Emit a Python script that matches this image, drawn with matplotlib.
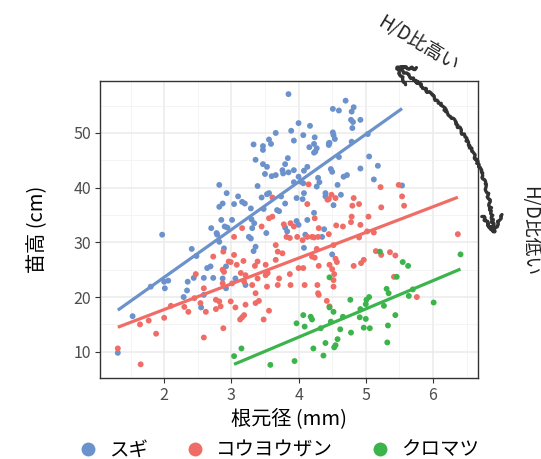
import numpy as np
import matplotlib
matplotlib.use("Agg")
import matplotlib.pyplot as plt
from matplotlib.patches import FancyArrowPatch
from matplotlib.lines import Line2D

plt.rcParams['font.family'] = ['Noto Sans CJK JP', 'DejaVu Sans']

species = ["スギ", "コウヨウザン", "クロマツ"]
colors = ["#6C92CC", "#EF6D66", "#3BB44B"]

sugi_x = [3.85, 4.00, 3.89, 4.17, 3.66, 4.07, 4.24, 3.56, 3.59, 3.33, 3.47, 3.47, 3.93, 4.23, 4.16, 4.27,
          4.23, 4.45, 3.84, 3.36, 3.47, 3.53, 3.80, 4.13, 4.08, 3.50, 3.60, 3.66, 3.77, 3.85, 3.93, 4.00,
          4.29, 2.82, 3.39, 3.93, 4.03, 4.27, 2.93, 3.56, 4.08, 4.40, 4.51, 4.60, 4.70, 4.82, 4.79, 4.78,
          4.81, 4.92, 4.80, 4.51, 4.52, 4.54, 4.79, 4.46, 4.45, 5.03, 4.25, 4.60, 5.05, 3.76, 4.48, 4.50,
          4.67, 4.72, 4.92, 5.18, 4.31, 5.12, 4.58, 5.54, 4.40, 4.63, 4.52, 3.97, 4.23, 4.13, 3.74, 2.87,
          2.82, 3.04, 3.16, 3.20, 3.29, 3.45, 3.53, 3.71, 4.06, 2.85, 3.01, 3.30, 3.34, 3.31, 3.26, 3.29,
          2.94, 2.70, 2.78, 3.80, 3.83, 3.97, 4.10, 3.52, 2.89, 3.36, 3.33, 4.08, 2.41, 2.69, 2.64, 2.92,
          2.59, 2.44, 2.73, 2.87, 2.92, 3.06, 3.21, 2.59, 2.55, 2.90, 1.97, 2.79, 2.82, 2.48, 1.31, 1.53,
          1.80, 2.00, 2.01, 2.06, 2.35, 2.34, 2.29, 3.10, 3.48, 3.68, 4.38, 4.35, 4.50, 3.80, 4.00, 4.07]
sugi_y = [57.1, 51.8, 50.4, 51.3, 50.0, 49.6, 49.2, 48.8, 48.0, 47.9, 47.6, 46.9, 48.6, 48.0, 47.4, 47.2,
          46.4, 48.1, 45.4, 45.1, 44.3, 43.8, 44.3, 43.8, 43.1, 42.5, 42.1, 42.3, 42.6, 42.8, 43.2, 42.0,
          41.8, 40.5, 40.3, 41.0, 41.1, 40.2, 39.0, 39.0, 39.0, 39.0, 54.4, 54.1, 55.9, 54.7, 53.9, 52.4,
          52.0, 52.4, 50.9, 50.1, 49.6, 48.9, 48.4, 48.2, 47.8, 49.8, 46.6, 45.6, 45.7, 43.2, 43.4, 42.9,
          42.0, 42.3, 43.5, 44.0, 41.0, 41.5, 40.5, 40.4, 38.4, 38.7, 36.8, 38.1, 35.4, 34.1, 38.4, 37.1,
          36.5, 37.0, 37.4, 37.1, 36.2, 38.2, 38.8, 35.7, 37.9, 34.1, 34.1, 34.2, 33.5, 32.6, 31.0, 30.7,
          32.7, 32.6, 31.7, 32.7, 32.0, 33.9, 31.4, 31.7, 28.9, 29.2, 28.4, 29.0, 28.8, 25.6, 25.3, 25.6,
          23.5, 23.5, 23.5, 23.4, 21.6, 23.4, 22.2, 20.4, 18.1, 32.9, 31.4, 31.4, 30.1, 27.5, 9.8, 16.5,
          21.9, 22.8, 21.6, 23.0, 22.8, 21.2, 20.0, 38.4, 36.1, 35.9, 32.4, 31.0, 27.8, 37.1, 33.2, 40.8]

kouyou_x = [5.49, 5.54, 5.57, 5.22, 5.23, 4.82, 4.90, 4.80, 4.55, 4.45, 4.49, 4.13, 4.79, 5.04, 4.78, 4.92,
            4.56, 4.66, 4.30, 4.24, 3.78, 3.88, 4.15, 4.43, 4.45, 4.23, 5.12, 4.90, 5.02, 4.52, 4.27, 4.20,
            4.24, 4.55, 4.57, 4.30, 4.46, 4.50, 4.82, 4.97, 4.93, 5.15, 5.23, 5.36, 5.44, 5.42, 4.53, 4.52,
            4.29, 6.37, 5.76, 4.42, 4.30, 4.46, 4.52, 4.09, 3.88, 4.00, 4.07, 3.76, 3.61, 3.56, 3.61, 3.16,
            3.45, 3.04, 3.82, 3.87, 3.98, 4.13, 4.20, 4.29, 3.66, 2.88, 3.39, 3.69, 3.66, 2.73, 3.04, 3.18,
            2.99, 3.08, 3.35, 3.54, 3.14, 3.21, 3.51, 3.71, 3.87, 2.47, 2.87, 3.19, 3.31, 3.53, 2.45, 2.59,
            3.39, 3.69, 3.36, 3.41, 3.36, 3.21, 2.99, 2.82, 2.77, 2.84, 2.77, 2.62, 2.54, 3.06, 3.19, 3.16,
            3.13, 3.56, 3.48, 2.88, 2.59, 2.96, 2.87, 1.31, 1.64, 1.65, 1.77, 1.88, 2.00, 2.10, 2.30, 2.36,
            4.28, 3.93, 4.06, 3.51, 3.01, 2.89]
kouyou_y = [40.5, 38.4, 36.7, 40.1, 36.4, 38.1, 37.0, 36.7, 38.1, 37.9, 38.7, 37.0, 34.7, 34.7, 33.7, 33.2,
            33.1, 32.9, 32.6, 34.4, 33.3, 33.5, 40.6, 37.8, 31.5, 30.9, 31.8, 30.9, 32.0, 29.5, 28.8, 27.4,
            27.2, 27.0, 26.4, 25.7, 25.9, 25.1, 25.7, 26.8, 26.2, 28.4, 27.7, 28.2, 27.6, 23.7, 24.2, 21.9,
            20.7, 31.5, 20.0, 19.3, 20.4, 18.3, 23.1, 22.2, 22.2, 25.3, 25.3, 28.0, 38.2, 34.4, 34.7, 32.6,
            32.9, 31.0, 31.0, 30.8, 31.0, 31.0, 31.0, 31.0, 29.5, 28.3, 26.5, 28.3, 26.8, 27.4, 27.7, 26.6,
            26.4, 25.9, 25.7, 24.4, 24.4, 24.0, 24.0, 23.4, 24.2, 24.2, 22.5, 22.8, 22.2, 21.9, 19.8, 21.6,
            23.4, 22.2, 20.7, 19.3, 18.9, 18.6, 19.2, 19.2, 19.5, 18.3, 17.8, 17.3, 18.9, 18.1, 16.7, 16.3,
            15.9, 17.5, 15.9, 14.3, 12.6, 26.5, 25.0, 10.6, 15.0, 7.7, 15.7, 13.3, 16.2, 18.4, 18.2, 17.3,
            22.2, 32.9, 30.4, 25.9, 22.5, 24.6]

kuromatsu_x = [6.41, 5.21, 5.55, 5.63, 5.46, 4.46, 5.31, 6.01, 5.70, 5.64, 5.34, 5.27, 5.44, 5.33, 5.32, 5.05,
               5.01, 5.00, 4.92, 4.91, 5.00, 4.97, 5.06, 4.77, 4.66, 4.62, 4.78, 4.58, 4.55, 4.53, 4.40, 4.37,
               4.22, 4.48, 4.52, 4.46, 4.33, 4.20, 4.18, 4.07, 4.09, 3.97, 3.94, 3.15, 3.04, 3.58]
kuromatsu_y = [27.8, 28.3, 26.4, 25.7, 23.7, 23.6, 21.5, 19.0, 21.4, 20.2, 20.7, 18.4, 16.7, 14.8, 11.7, 20.0,
               19.5, 18.7, 17.8, 16.3, 16.0, 14.4, 14.3, 19.5, 16.4, 14.1, 13.5, 12.3, 11.2, 10.8, 11.6, 9.3,
               10.6, 15.5, 17.3, 18.1, 14.3, 15.9, 16.4, 16.7, 14.6, 15.2, 8.3, 10.6, 9.2, 7.6]

xs = [sugi_x, kouyou_x, kuromatsu_x]
ys = [sugi_y, kouyou_y, kuromatsu_y]

x_ticks = [2, 3, 4, 5, 6]
y_ticks = [10, 20, 30, 40, 50]

fig = plt.figure(figsize=(5.41, 4.59), dpi=100)
ax = fig.add_axes([100/541, 1-378/459, 378/541, 297/459])
ax.set_facecolor("white")

# grid
for v in x_ticks:
    ax.axvline(v, color="#EBEBEB", lw=1.1, zorder=0)
for v in [1.5, 2.5, 3.5, 4.5, 5.5, 6.5]:
    ax.axvline(v, color="#F2F2F2", lw=0.6, zorder=0)
for v in y_ticks:
    ax.axhline(v, color="#EBEBEB", lw=1.1, zorder=0)
for v in [15, 25, 35, 45, 55]:
    ax.axhline(v, color="#F2F2F2", lw=0.6, zorder=0)

for x, y, c in zip(xs, ys, colors):
    x = np.array(x); y = np.array(y)
    ax.scatter(x, y, s=18, color=c, edgecolors="none", zorder=3)
for x, y, c in zip(xs, ys, colors):
    x = np.array(x); y = np.array(y)
    k, b = np.polyfit(x, y, 1)
    xx = np.array([x.min(), x.max()])
    ax.plot(xx, k*xx + b, color=c, lw=2.3, zorder=4, solid_capstyle="butt")

ax.set_xlim(1.045, 6.67)
ax.set_ylim(5.2, 59.5)
ax.set_xticks(x_ticks)
ax.set_yticks(y_ticks)
ax.tick_params(length=3.5, width=0.8, color="#333333", labelcolor="#4D4D4D", labelsize=11.5, pad=3)
for s in ax.spines.values():
    s.set_color("#333333")
    s.set_linewidth(1.0)
ax.set_xlabel("根元径 (mm)", fontsize=14.5, color="black", labelpad=3)
ax.set_ylabel("苗高 (cm)", fontsize=14.5, color="black", labelpad=18)

handles = [Line2D([], [], marker="o", ls="none", color=c, markersize=10, markeredgewidth=0) for c in colors]
fig.legend(handles, species, loc="center", bbox_to_anchor=(0.515, 1-450/459), ncol=3, frameon=False,
           fontsize=14, handletextpad=0.6, columnspacing=1.9, handlelength=1.0)

# hand-drawn arrow
arr = FancyArrowPatch((392/541, 1-64/459), (494/541, 1-238/459), transform=fig.transFigure,
                      arrowstyle="<->,head_length=12,head_width=7", connectionstyle="arc3,rad=-0.25",
                      color="#333333", lw=2.4, mutation_scale=1)
arr.set_sketch_params(scale=1.2, length=6, randomness=6)
fig.add_artist(arr)

fig.text(418/541, 1-44/459, "H/D比高い", rotation=-31, ha="center", va="center", fontsize=13.5, color="#222222",
         rotation_mode="anchor")
fig.text(530/541, 1-186/459, "H/D比低い", rotation=-90, ha="center", va="top", fontsize=13.5, color="#222222")

fig.savefig("out.png", dpi=100)
